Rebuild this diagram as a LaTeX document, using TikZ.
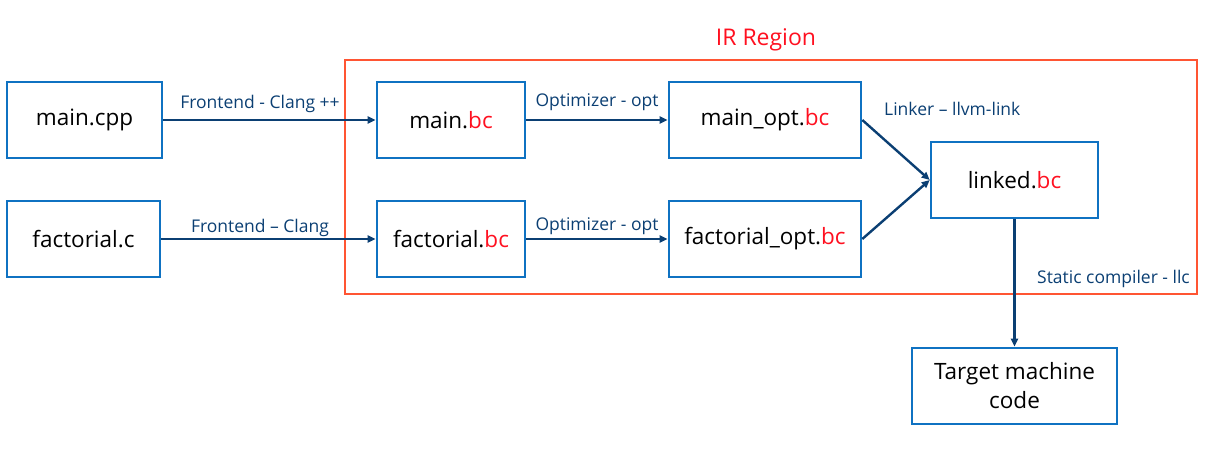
\documentclass[tikz,border=0pt]{standalone}
\usepackage{fontspec}
\setmainfont{Open Sans}
\usetikzlibrary{arrows.meta}
\definecolor{boxblue}{HTML}{0F72C2}
\definecolor{arrblue}{HTML}{0B3F73}
\definecolor{irred}{HTML}{FF5533}
\definecolor{bcred}{HTML}{FF1020}
\tikzset{
  filebox/.style={draw=boxblue, line width=2.6pt, minimum height=76pt, inner sep=0pt, font=\fontsize{22.5}{29}\selectfont, text=black, align=center},
  conn/.style={draw=arrblue, line width=2.4pt, -{Triangle[length=8pt,width=7pt]}},
  lbl/.style={text=arrblue, font=\fontsize{17.5}{20}\selectfont, inner sep=0pt}
}
\newcommand{\bcx}{{\color{bcred}bc}}
\begin{document}
\begin{tikzpicture}[x=1pt,y=-1pt]
\useasboundingbox (0,0) rectangle (1214,452);
\node[draw=irred, line width=2.4pt, minimum width=852pt, minimum height=234pt, inner sep=0pt] (ir) at (771,177) {};
\node[text=bcred, font=\fontsize{23}{26}\selectfont, inner sep=0pt] (irlbl) at (766,40) {IR Region};
\node[filebox, minimum width=155pt] (mcpp) at (84.5,120) {main.cpp};
\node[filebox, minimum width=153pt] (fc) at (83.5,239) {factorial.c};
\node[filebox, minimum width=148pt] (mbc) at (451,120) {main.\bcx};
\node[filebox, minimum width=148pt] (fbc) at (451,239) {factorial.\bcx};
\node[filebox, minimum width=192pt] (mopt) at (765,120) {main\_opt.\bcx};
\node[filebox, minimum width=192pt] (fopt) at (765,239) {factorial\_opt.\bcx};
\node[filebox, minimum width=167pt] (linked) at (1014.5,180) {linked.\bcx};
\node[filebox, minimum width=205pt] (target) at (1014.5,386) {Target machine\\code};
\draw[conn] (mcpp.east) -- (mbc.west);
\draw[conn] (fc.east) -- (fbc.west);
\draw[conn] (mbc.east) -- (mopt.west);
\draw[conn] (fbc.east) -- (fopt.west);
\draw[conn] (mopt.east) -- (linked.west);
\draw[conn] (fopt.east) -- (linked.west);
\draw[conn] (linked.south) -- (target.north);
\node[lbl] (l1) at (260,104) {Frontend - Clang ++};
\node[lbl] (l2) at (260,228) {Frontend – Clang};
\node[lbl] (l3) at (597,102) {Optimizer - opt};
\node[lbl] (l4) at (597,226) {Optimizer - opt};
\node[lbl, anchor=west] (l5) at (884,109) {Linker – llvm-link};
\node[lbl, anchor=east] (l6) at (1190,279) {Static compiler - llc};
\end{tikzpicture}
\end{document}
